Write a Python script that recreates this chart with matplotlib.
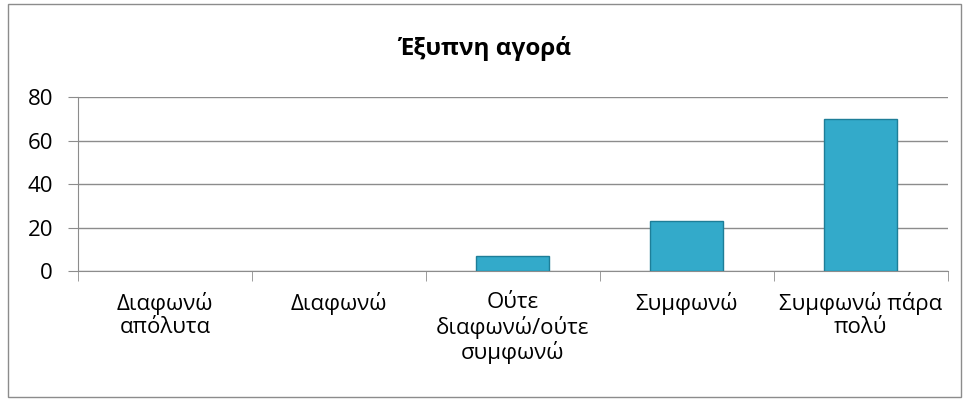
import numpy as np
import matplotlib.pyplot as plt
from matplotlib.patches import Rectangle

categories = ['Διαφωνώ\nαπόλυτα', 'Διαφωνώ', 'Ούτε\nδιαφωνώ/ούτε\nσυμφωνώ',
              'Συμφωνώ', 'Συμφωνώ πάρα\nπολύ']
values = [0, 0, 7, 23, 70]
title = 'Έξυπνη αγορά'

plt.rcParams['font.family'] = ['Open Sans', 'DejaVu Sans']

fig = plt.figure(figsize=(9.69, 4.01), dpi=100)
ax = fig.add_axes([0.0805, 0.324, 0.8975, 0.434])

x = np.arange(len(categories))
edges = ['#1E7E98' if v > 0 else 'none' for v in values]
ax.bar(x, values, width=0.42, color='#33AACA', edgecolor=edges,
       linewidth=1.0, zorder=3)

ax.set_xlim(-0.5, len(categories) - 0.5)
ax.set_ylim(0, 80)
ax.set_yticks([0, 20, 40, 60, 80])
ax.yaxis.grid(True, color='#8C8C8C', linewidth=1.0, zorder=0)
ax.set_xticks(x)
ax.set_xticklabels(categories, fontsize=16, linespacing=1.15)
ax.set_xticks(np.arange(-0.5, len(categories)), minor=True)
ax.tick_params(axis='x', which='major', length=0, pad=15)
ax.tick_params(axis='x', which='minor', length=7, color='#8C8C8C')
ax.tick_params(axis='y', length=7, color='#8C8C8C', labelsize=16, pad=11)

for s in ['top', 'right']:
    ax.spines[s].set_visible(False)
for s in ['left', 'bottom']:
    ax.spines[s].set_color('#8C8C8C')

fig.text(0.5, 0.88, title, ha='center', va='center', fontsize=17.5,
         fontweight='bold')

fig.patches.append(Rectangle((0.008, 0.01), 0.984, 0.98, transform=fig.transFigure,
                             fill=False, edgecolor='#8C8C8C', linewidth=1.0))

fig.savefig('out.png', dpi=100)
